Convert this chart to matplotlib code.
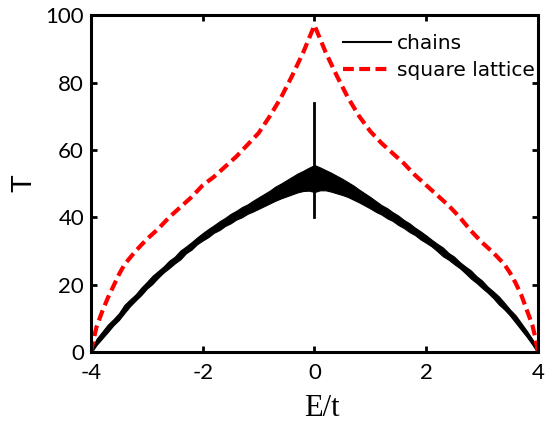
import numpy as np
import matplotlib
matplotlib.use("Agg")
from matplotlib import pyplot as plt

plt.rcParams['axes.unicode_minus'] = False

# chains: centre of the noisy band, E/t from -4 to 4 in steps of 0.1
chains_T = [0.0, 3.0, 5.0, 7.0, 8.8, 10.5, 12.8, 14.6, 16.2, 18.0,
            19.8, 21.4, 23.0, 24.5, 26.0, 27.3, 28.8, 30.3, 31.5, 33.0,
            34.2, 35.3, 36.5, 37.5, 38.6, 39.6, 40.6, 41.5, 42.4, 43.3,
            44.2, 45.1, 46.0, 47.0, 47.8, 48.6, 49.4, 50.2, 50.8, 51.3,
            51.5,
            51.4, 51.0, 50.4, 49.7, 49.0, 48.2, 47.3, 46.3, 45.3, 44.3,
            43.2, 42.2, 41.2, 40.2, 39.1, 38.0, 36.9, 35.8, 34.6, 33.5,
            32.3, 31.0, 29.7, 28.4, 27.2, 25.8, 24.4, 23.0, 21.5, 20.1,
            18.5, 17.0, 15.3, 13.6, 11.7, 9.8, 7.6, 5.4, 3.0, 0.0]
# half thickness of the noise band
chains_noise = [0.3, 0.9, 1.0, 1.1, 0.9, 1.0, 1.2, 1.0, 0.9, 1.1,
                1.0, 1.2, 1.0, 0.9, 1.1, 1.0, 1.3, 1.0, 1.1, 1.0,
                1.1, 1.2, 1.1, 1.3, 1.2, 1.4, 1.3, 1.5, 1.4, 1.6,
                1.7, 1.8, 1.9, 2.1, 2.2, 2.4, 2.6, 2.8, 3.0, 3.4,
                4.0,
                3.4, 3.0, 2.8, 2.6, 2.4, 2.2, 2.1, 1.9, 1.8, 1.7,
                1.6, 1.4, 1.5, 1.3, 1.4, 1.2, 1.3, 1.1, 1.2, 1.1,
                1.0, 1.1, 1.3, 1.0, 1.1, 0.9, 1.0, 1.2, 1.0, 1.1,
                0.9, 1.0, 1.2, 1.0, 0.9, 1.1, 1.0, 0.9, 0.8, 0.3]
spike_E = [0.0, 0.0]
spike_T = [40.0, 74.0]

lattice_E = [-4.0, -3.95, -3.9, -3.8, -3.7, -3.6, -3.5, -3.4, -3.2, -3.0,
             -2.8, -2.6, -2.4, -2.2, -2.0, -1.8, -1.6, -1.4, -1.2, -1.0,
             -0.8, -0.6, -0.4, -0.2, -0.1, 0.0,
             0.1, 0.2, 0.4, 0.6, 0.8, 1.0, 1.2, 1.4, 1.6, 1.8,
             2.0, 2.2, 2.4, 2.6, 2.8, 3.0, 3.2, 3.4, 3.5, 3.6,
             3.7, 3.8, 3.9, 3.95, 4.0]
lattice_T = [0.0, 4.0, 7.5, 12.0, 16.0, 19.5, 23.0, 26.0, 30.0, 33.5,
             36.5, 40.0, 43.0, 46.0, 49.5, 52.0, 55.0, 58.0, 61.5, 65.0,
             70.0, 75.5, 82.0, 89.0, 93.0, 97.0,
             93.0, 89.0, 82.0, 75.5, 70.0, 65.5, 62.0, 59.0, 56.0, 52.5,
             49.5, 46.5, 43.5, 40.0, 36.0, 32.5, 29.5, 26.0, 23.5, 20.5,
             17.0, 12.5, 8.0, 4.5, 0.0]

chains_E = np.linspace(-4, 4, len(chains_T))
mid = np.array(chains_T)
noise = np.array(chains_noise)

fig = plt.figure(figsize=(5.45, 4.22), dpi=100)
ax = fig.add_axes([0.167, 0.166, 0.82, 0.798])

ax.fill_between(chains_E, mid - noise, mid + noise, color='black', lw=0.8)
ax.plot(chains_E, mid, color='black', lw=1.5, label='chains')
ax.plot(spike_E, spike_T, color='black', lw=2)
ax.plot(lattice_E, lattice_T, color='red', lw=3, dashes=(2.6, 1.3),
        label='square lattice')

ax.set_xlim(-4, 4)
ax.set_ylim(0, 100)
ax.set_xticks([-4, -2, 0, 2, 4])
ax.set_yticks([0, 20, 40, 60, 80, 100])
for s in ax.spines.values():
    s.set_linewidth(2.2)
ax.tick_params(direction='in', length=4, width=2, top=True, right=True,
               labelsize=16, pad=5)
ax.tick_params(axis='x', pad=8)
for lbl in ax.get_xticklabels() + ax.get_yticklabels():
    lbl.set_family('Lato')

ax.set_xlabel('E/t', family='Liberation Serif', fontsize=22, labelpad=5)
ax.xaxis.set_label_coords(0.517, -0.125)
ax.set_ylabel('T', family='Liberation Sans', fontsize=21, labelpad=6)

ax.legend(loc='upper right', bbox_to_anchor=(1.025, 0.985), frameon=False,
          prop={'family': 'DejaVu Sans', 'size': 14.5},
          handlelength=2.4, handletextpad=0.3, borderaxespad=0.3,
          labelspacing=0.4)

plt.savefig('out.png', dpi=100)
plt.close()
